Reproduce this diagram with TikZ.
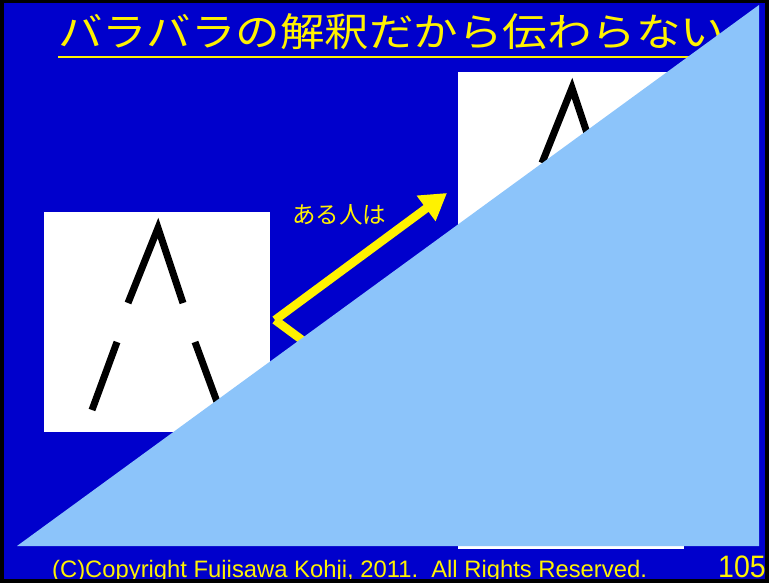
\documentclass[tikz,border=0pt]{standalone}
\usepackage{fontspec}
\setmainfont{Liberation Sans}
\newfontfamily\jpfont{Noto Sans CJK JP}
\usetikzlibrary{arrows.meta}
\definecolor{slideblue}{RGB}{0,0,204}
\definecolor{skyblue}{RGB}{140,196,250}
\tikzstyle{box} = [fill=white, minimum width=226pt, minimum height=220pt, inner sep=0pt, anchor=north west]
\tikzstyle{yarrow} = [yellow, line width=8.5pt, -{Triangle[length=26pt,width=30pt]}]
\tikzstyle{stroke} = [black, line width=7pt, line join=miter]

\begin{document}
\begin{tikzpicture}[x=1pt, y=-1pt, every node/.style={inner sep=0pt, text=yellow}]
    \useasboundingbox (0,0) rectangle (769,583);

      % Background
      \fill[black] (0,0) rectangle (769,583);
      \fill[slideblue] (4,3) rectangle (765,579);

      % Nodes
      \node[box] (left) at (44,212) {};
      \node[box] (upper) at (458,72) {};
      \node[box] (lower) at (458,329) {};
      \node[font=\jpfont\fontsize{44.5}{44}\selectfont, anchor=base west] (title) at (58,47) {\scalebox{1}[0.88]{バラバラの解釈だから伝わらない}};
      \node[font=\jpfont\fontsize{23.5}{24}\selectfont, anchor=base] (label) at (339,223) {ある人は};
      \coordinate (fork) at (275,320);
      \coordinate (tipU) at (447,193);
      \coordinate (tipD) at (447,447);

      % Strokes
      \foreach \b in {left, upper} {
        \begin{scope}[shift={(\b.north west)}]
          \draw[stroke] (84,91) -- (114,16) -- (139,91);
          \draw[stroke] (73,130) -- (48,198);
          \draw[stroke] (151,130) -- (176,198);
        \end{scope}
      }

      %Edges
      \draw[yarrow] (fork) -- (tipU);
      \draw[yarrow] (fork) -- (tipD);
      \draw[yellow, line width=2pt] ([yshift=-10pt]title.base west) -- ([yshift=-10pt]title.base east);

      % Cover
      \fill[skyblue] (17,546) -- (759,546) -- (759,5) -- cycle;

      % Footer
      \node[font=\fontsize{23.8}{24}\selectfont, anchor=base west] (copy) at (52,577) {(C)Copyright Fujisawa Kohji, 2011.~~All Rights Reserved.};
      \node[font=\fontsize{31}{31}\selectfont, anchor=base east] (page) at (766,577) {\scalebox{0.92}[1]{105}};
      \fill[black] (0,579) rectangle (769,583);
      \fill[black] (765,0) rectangle (769,583);

  \end{tikzpicture}
\end{document}
